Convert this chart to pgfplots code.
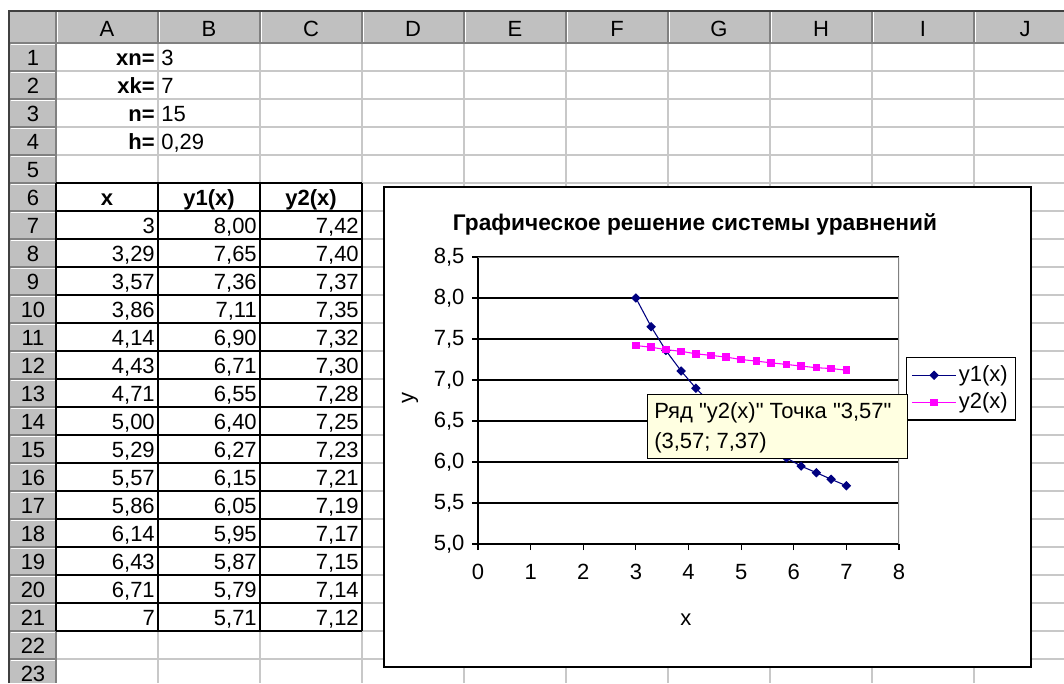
\documentclass[border=0pt]{standalone}
\usepackage{fontspec}
\setmainfont{Liberation Sans}[Ligatures=TeXOff]
\usepackage{pgfplots}
\pgfplotsset{compat=1.18}
\definecolor{hdr}{HTML}{C0C0C0}
\definecolor{gridc}{HTML}{C8C8C8}
\definecolor{hdrdark}{HTML}{808080}
\definecolor{navy}{HTML}{000080}
\definecolor{pinkm}{HTML}{FF00FF}
\definecolor{tipc}{HTML}{FFFFE1}
\newcommand{\cellfont}{\fontsize{16.5}{19}\selectfont}
\begin{document}
\cellfont
\begin{tikzpicture}
% the sheet, in pixel units (y downwards)
\begin{scope}[x=0.75pt,y=-0.75pt]
\path[use as bounding box, fill=white] (0,0) rectangle (1064,683);
\fill[hdr] (10,12) rectangle (1064,43);
\fill[hdr] (10,43) rectangle (56,683);
\foreach \c in {158,260,...,974} \draw[gridc, line width=0.9pt] (\c,43) -- (\c,683);
\foreach \r in {1,...,23} \draw[gridc, line width=0.9pt] (56,43+28*\r) -- (1064,43+28*\r);
% header separators
\foreach \c in {56,158,...,974} {
  \draw[hdrdark, line width=0.9pt] (\c,12) -- (\c,43);
  \draw[white, line width=0.9pt] (\c+1.5,12) -- (\c+1.5,42);
}
\foreach \r in {0,...,23} {
  \draw[hdrdark, line width=0.9pt] (10,43+28*\r) -- (56,43+28*\r);
  \draw[white, line width=0.9pt] (11,44.5+28*\r) -- (55,44.5+28*\r);
}
\draw[hdrdark, line width=0.9pt] (10,43) -- (1064,43);
\draw[hdrdark, line width=0.9pt] (56,43) -- (56,683);
\draw[black!75, line width=1.5pt] (9,683) -- (9,11) -- (1064,11);
% column letters and row numbers
\foreach \l [count=\i from 0] in {A,B,C,D,E,F,G,H,I,J}
  \node[anchor=base, inner sep=0pt] at (107+102*\i,36) {\l};
\foreach \r in {1,...,23}
  \node[anchor=base, inner sep=0pt] at (33,37+28*\r) {\r};
% parameters
\foreach \t/\v [count=\r] in {xn=/3, xk=/7, n=/15, h=/{0,29}} {
  \node[anchor=base east, inner sep=0pt] at (155,37+28*\r) {\textbf{\t}};
  \node[anchor=base west, inner sep=0pt] at (161,37+28*\r) {\v};
}
% table
\foreach \k in {0,...,16} \draw[black, line width=0.9pt] (56,183+28*\k) -- (362,183+28*\k);
\foreach \c in {56,158,260,362} \draw[black, line width=0.9pt] (\c,183) -- (\c,631);
\node[anchor=base, inner sep=0pt] at (107,205) {\textbf{x}};
\node[anchor=base, inner sep=0pt] at (209,205) {\textbf{y1(x)}};
\node[anchor=base, inner sep=0pt] at (311,205) {\textbf{y2(x)}};
\foreach \a/\b/\c [count=\i from 7] in {
  3/{8,00}/{7,42}, {3,29}/{7,65}/{7,40}, {3,57}/{7,36}/{7,37},
  {3,86}/{7,11}/{7,35}, {4,14}/{6,90}/{7,32}, {4,43}/{6,71}/{7,30},
  {4,71}/{6,55}/{7,28}, {5,00}/{6,40}/{7,25}, {5,29}/{6,27}/{7,23},
  {5,57}/{6,15}/{7,21}, {5,86}/{6,05}/{7,19}, {6,14}/{5,95}/{7,17},
  {6,43}/{5,87}/{7,15}, {6,71}/{5,79}/{7,14}, 7/{5,71}/{7,12}} {
  \node[anchor=base east, inner sep=0pt] at (155,37+28*\i) {\a};
  \node[anchor=base east, inner sep=0pt] at (257,37+28*\i) {\b};
  \node[anchor=base east, inner sep=0pt] at (359,37+28*\i) {\c};
}
% chart area
\draw[fill=white, line width=1.5pt] (384,187) rectangle (1031,667);
\node[anchor=base, inner sep=0pt] at (695,230) {\fontsize{17}{20}\selectfont\textbf{Графическое решение системы уравнений}};
\end{scope}

\begin{axis}[
  at={(358.5pt,-408pt)}, anchor=south west,
  scale only axis, width=315.75pt, height=215.25pt,
  xmin=0, xmax=8, ymin=5, ymax=8.5,
  xtick={0,...,8}, ytick={5,5.5,...,8.5},
  axis x line*=bottom, axis y line*=left,
  axis line style={black, line width=0.9pt, -},
  ymajorgrids, grid style={black, line width=0.9pt},
  tick align=outside, major tick length=4.5pt,
  tick style={black, line width=0.9pt},
  /pgf/number format/assume math mode=true,
  /pgf/number format/use comma,
  yticklabel style={/pgf/number format/fixed,
    /pgf/number format/fixed zerofill,
    /pgf/number format/precision=1},
  ticklabel style={font=\cellfont},
  xticklabel style={yshift=-5pt},
  xlabel={x}, ylabel={y},
  xlabel style={at={(axis description cs:0.494,-0.265)}, anchor=center},
  ylabel style={at={(axis description cs:-0.1615,0.509)}, anchor=center, rotate=0},
  legend cell align=left,
  legend image code/.code={\draw[mark repeat=2,mark phase=2]
    plot coordinates {(0cm,0cm) (0.57cm,0cm) (1.14cm,0cm)};},
  legend style={at={(axis description cs:1.0166,0.6516)}, anchor=north west,
    draw=black, line width=0.9pt, font=\cellfont, inner xsep=4pt, inner ysep=4pt,
    row sep=2pt},
]
\addplot[navy, line width=0.8pt, mark=square*, mark size=2.1pt,
  mark options={rotate=45, solid}] coordinates {
  (3,8.00) (3.29,7.65) (3.57,7.36) (3.86,7.11) (4.14,6.90) (4.43,6.71)
  (4.71,6.55) (5.00,6.40) (5.29,6.27) (5.57,6.15) (5.86,6.05) (6.14,5.95)
  (6.43,5.87) (6.71,5.79) (7,5.71)};
\addplot[pinkm, line width=0.8pt, mark=square*, mark size=2.4pt,
  mark options={solid}] coordinates {
  (3,7.42) (3.29,7.40) (3.57,7.37) (3.86,7.35) (4.14,7.32) (4.43,7.30)
  (4.71,7.28) (5.00,7.25) (5.29,7.23) (5.57,7.21) (5.86,7.19) (6.14,7.17)
  (6.43,7.15) (6.71,7.14) (7,7.12)};
\legend{y1(x), y2(x)}
\draw[gray, line width=0.9pt] (rel axis cs:0,1) -- (rel axis cs:1,1) -- (rel axis cs:1,0);
\end{axis}

% tooltip
\begin{scope}[x=0.75pt,y=-0.75pt]
\draw[fill=tipc, line width=0.75pt] (647,394) rectangle (907,458);
\node[anchor=base west, inner sep=0pt] at (654,418) {Ряд "y2(x)" Точка "3,57"};
\node[anchor=base west, inner sep=0pt] at (654,448) {(3,57; 7,37)};
\end{scope}
\end{tikzpicture}
\end{document}
